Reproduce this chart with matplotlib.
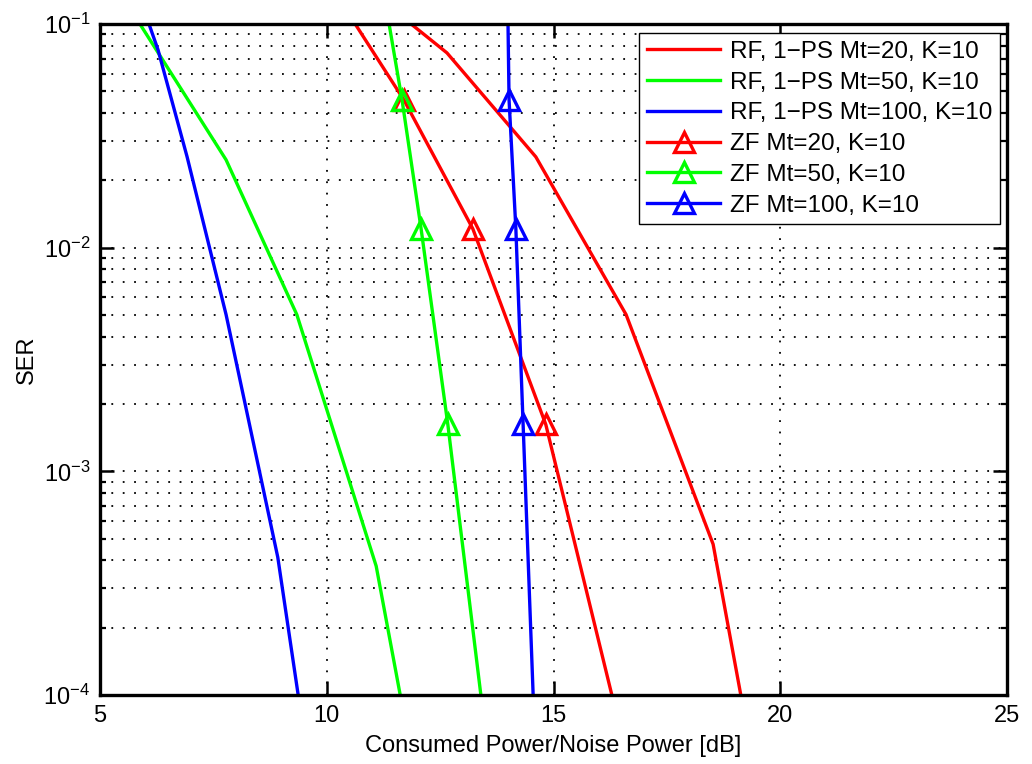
import numpy as np
from matplotlib import pyplot as plt
from matplotlib.ticker import LogLocator, NullFormatter

plt.rcParams['font.family'] = ['Liberation Sans', 'DejaVu Sans']
plt.rcParams['mathtext.fontset'] = 'custom'
plt.rcParams['mathtext.rm'] = 'Liberation Sans'
plt.rcParams['mathtext.it'] = 'Liberation Sans:italic'
plt.rcParams['mathtext.default'] = 'regular'

# RF, 1-PS curves
x_rf20 = [11.86, 12.65, 14.61, 16.60, 18.52, 19.13]
ser_rf20 = [1e-1, 0.0743, 0.02547, 0.005023, 4.72e-4, 1e-4]
x_rf50 = [5.88, 7.78, 9.34, 11.09, 11.62]
ser_rf50 = [1e-1, 0.0247, 0.00502, 3.77e-4, 1e-4]
x_rf100 = [6.08, 6.28, 6.92, 7.78, 8.92, 9.37]
ser_rf100 = [1e-1, 0.0766, 0.0255, 0.00502, 4.13e-4, 1e-4]

# ZF curves, same SER points, first and last lie outside the axes
ser_zf = [0.126, 0.0458, 0.01216, 0.00162, 7.9e-5]
x_zf20 = [10.31, 11.70, 13.22, 14.83, 16.41]
x_zf50 = [11.29, 11.66, 12.08, 12.67, 13.46]
x_zf100 = [13.99, 14.02, 14.17, 14.33, 14.57]

labels = ['RF, 1\u2212PS Mt=20, K=10', 'RF, 1\u2212PS Mt=50, K=10', 'RF, 1\u2212PS Mt=100, K=10',
          'ZF Mt=20, K=10', 'ZF Mt=50, K=10', 'ZF Mt=100, K=10']
red, green, blue = (1, 0, 0), (0, 1, 0), (0, 0, 1)

fig = plt.figure(figsize=(10.32, 7.64), dpi=100)
ax = fig.add_axes([100/1032, 1-695/764, 907/1032, 671/764])

lw = 2.4
ax.plot(x_rf20, ser_rf20, color=red, lw=lw, label=labels[0])
ax.plot(x_rf50, ser_rf50, color=green, lw=lw, label=labels[1])
ax.plot(x_rf100, ser_rf100, color=blue, lw=lw, label=labels[2])
for xs, c, lab in [(x_zf20, red, labels[3]), (x_zf50, green, labels[4]), (x_zf100, blue, labels[5])]:
  ax.plot(xs, ser_zf, color=c, lw=lw, marker='^', markersize=14, markerfacecolor='none',
          markeredgewidth=2.4, markeredgecolor=c, label=lab)

ax.set_yscale('log')
ax.set_xlim(5, 25)
ax.set_ylim(1e-4, 1e-1)
ax.set_xticks([5, 10, 15, 20, 25])
ax.yaxis.set_major_locator(LogLocator(base=10, numticks=10))
ax.yaxis.set_minor_locator(LogLocator(base=10, subs=np.arange(2, 10), numticks=20))
ax.yaxis.set_minor_formatter(NullFormatter())

dots = (0, (1, 5.3))
ax.grid(True, which='both', axis='y', color='k', lw=1.3, linestyle=dots)
ax.grid(True, which='major', axis='x', color='k', lw=1.3, linestyle=dots)
ax.set_axisbelow(True)

ax.tick_params(which='major', direction='in', top=True, right=True, length=10, width=1.8,
               labelsize=17, pad=7)
ax.tick_params(which='minor', direction='in', top=True, right=True, length=4, width=1.6)
for s in ax.spines.values():
  s.set_linewidth(2.4)

ax.set_xlabel('Consumed Power/Noise Power [dB]', fontsize=17, labelpad=6)
ax.set_ylabel('SER', fontsize=17, labelpad=4)

leg = ax.legend(loc='upper right', bbox_to_anchor=((1000-100)/907, 1-(33-24)/671), borderaxespad=0,
                fontsize=17.5, fancybox=False, framealpha=1, edgecolor='k', handlelength=3.0,
                labelspacing=0.36, borderpad=0.32, handletextpad=0.4)
leg.get_frame().set_linewidth(1.0)

fig.savefig('out.png', dpi=100)
